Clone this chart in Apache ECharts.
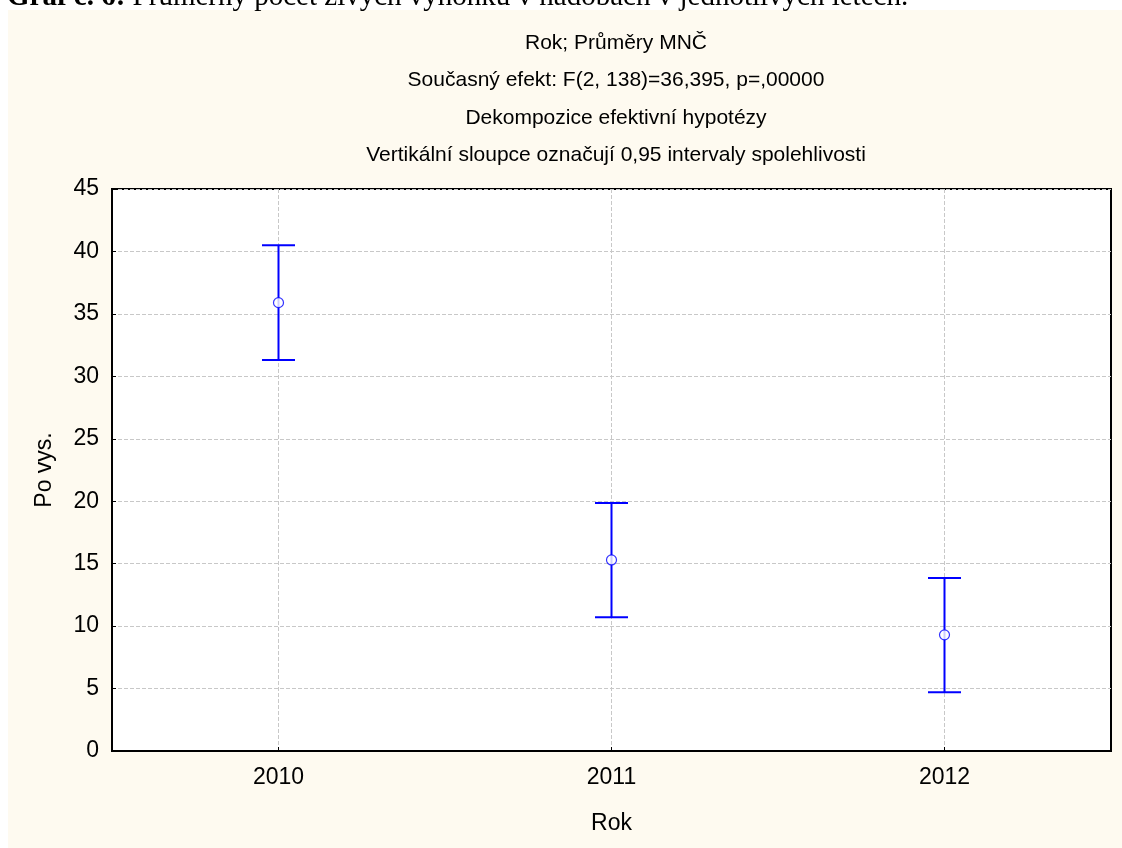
<!DOCTYPE html>
<html>
<head>
    <meta charset="utf-8">
    <title>Rok; Průměry MNČ</title>
    <script src="https://cdn.jsdelivr.net/npm/echarts@6/dist/echarts.min.js"></script>
    <style>
        body{ margin: 0; background: #fff; }
        #chart{ width: 1122px; height: 848px; }
    </style>
</head>
<body>
<div id="chart"></div>
<script>
    // roky a průměry MNČ s 0,95 intervaly spolehlivosti
    var years = ['2010', '2011', '2012'];
    var means = [35.9, 15.3, 9.3];
    var lower = [31.3, 10.7, 4.7];
    var upper = [40.5, 19.85, 13.85];
    var yTicks = [0, 5, 10, 15, 20, 25, 30, 35, 40, 45];

    var titleLines = [
        'Rok; Průměry MNČ',
        'Současný efekt: F(2, 138)=36,395, p=,00000',
        'Dekompozice efektivní hypotézy',
        'Vertikální sloupce označují 0,95 intervaly spolehlivosti'
    ];

    var barData = years.map(function (y, i) { return [i, lower[i], upper[i]]; });
    var pointData = years.map(function (y, i) { return [y, means[i]]; });

    var option = {
        backgroundColor: '#ffffff',
        textStyle: { fontFamily: 'Liberation Sans' },
        graphic: [
            {
                type: 'rect', z: -10, silent: true,
                shape: { x: 8, y: 10, width: 1114, height: 838 },
                style: { fill: '#fefaf0' }
            },
            {
                type: 'text', left: 7, top: -17, silent: true,
                style: {
                    text: '{b|Graf č. 6:} Průměrný počet živých výhonků v nádobách v jednotlivých letech.',
                    rich: { b: { fontWeight: 'bold', fontFamily: 'Liberation Serif', fontSize: 29, fill: '#000' } },
                    fontFamily: 'Liberation Serif', fontSize: 29, fill: '#000'
                }
            }
        ],
        title: {
            text: titleLines.join('\n'),
            left: 611, top: 19, textAlign: 'center',
            textStyle: { fontSize: 21, fontWeight: 'normal', color: '#000', lineHeight: 37.5, fontFamily: 'Liberation Sans' }
        },
        grid: {
            left: 112, right: 11, top: 189, bottom: 97,
            show: true, backgroundColor: '#ffffff', borderColor: '#000', borderWidth: 2
        },
        xAxis: {
            type: 'category', data: years, boundaryGap: true,
            name: 'Rok', nameLocation: 'middle', nameGap: 61,
            nameTextStyle: { fontSize: 23, color: '#000' },
            axisLine: { lineStyle: { color: '#000', width: 2 } },
            axisTick: { show: false },
            axisLabel: { fontSize: 23, color: '#000', margin: 15 },
            splitLine: { show: false }
        },
        yAxis: {
            type: 'value', min: yTicks[0], max: yTicks[yTicks.length - 1], interval: 5,
            name: 'Po vys.', nameLocation: 'middle', nameGap: 56,
            nameTextStyle: { fontSize: 23, color: '#000' },
            axisLine: { show: true, lineStyle: { color: '#000', width: 2 } },
            axisTick: { show: true, inside: true, length: 4, lineStyle: { color: '#000' } },
            axisLabel: { fontSize: 23, color: '#000', margin: 13 },
            splitLine: { show: true, lineStyle: { color: '#c8c8c8', type: [4, 2], width: 1 } }
        },
        series: [
            {
                type: 'custom',
                z: 2,
                silent: true,
                data: barData,
                renderItem: function (params, api) {
                    var x = api.coord([api.value(0), 0])[0];
                    var lo = api.coord([api.value(0), api.value(1)]);
                    var hi = api.coord([api.value(0), api.value(2)]);
                    var cs = params.coordSys;
                    var half = 16.5;
                    var blue = { stroke: '#0000ff', lineWidth: 2 };
                    return {
                        type: 'group',
                        children: [
                            { type: 'line', shape: { x1: x, y1: cs.y, x2: x, y2: cs.y + cs.height },
                              style: { stroke: '#c8c8c8', lineWidth: 1, lineDash: [4, 2] } },
                            { type: 'line', shape: { x1: x, y1: cs.y + cs.height, x2: x, y2: cs.y + cs.height - 4 },
                              style: { stroke: '#000', lineWidth: 1 } },
                            { type: 'line', shape: { x1: x, y1: lo[1], x2: x, y2: hi[1] }, style: blue },
                            { type: 'line', shape: { x1: x - half, y1: lo[1], x2: x + half, y2: lo[1] }, style: blue },
                            { type: 'line', shape: { x1: x - half, y1: hi[1], x2: x + half, y2: hi[1] }, style: blue }
                        ]
                    };
                }
            },
            {
                type: 'scatter',
                z: 3,
                data: pointData,
                symbol: 'circle',
                symbolSize: 10,
                itemStyle: { color: '#ffffff', borderColor: '#0000ff', borderWidth: 1.2 }
            }
        ]
    };

    var myChart = echarts.init(document.getElementById('chart'));
    myChart.setOption(option);
</script>
</body>
</html>
